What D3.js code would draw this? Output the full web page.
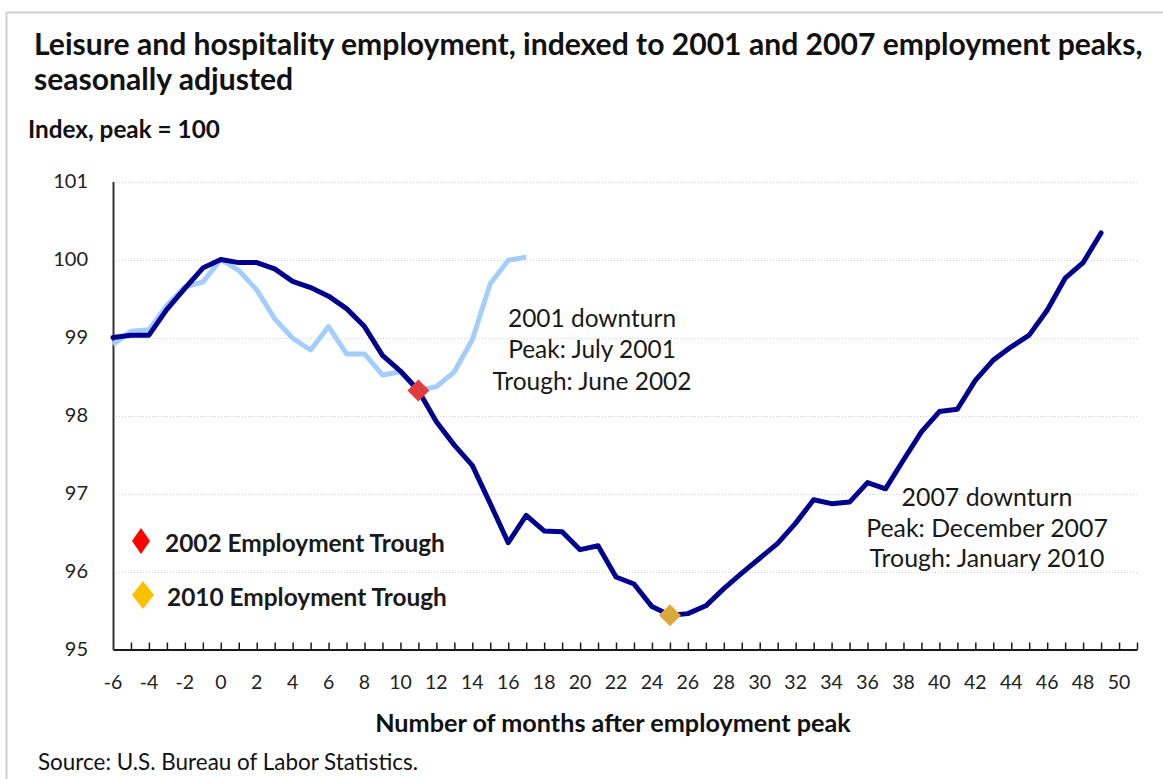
<!DOCTYPE html>
<html>
<head>
<meta charset="utf-8">
<script src="https://cdn.jsdelivr.net/npm/d3@7"></script>
<style>
  body { margin: 0; background: #fff; }
  svg { display: block; font-family: Lato, "DejaVu Sans", sans-serif; }
</style>
</head>
<body>
<script>
// months after employment peak
var months2007 = [-6, -5, -4, -3, -2, -1, 0, 1, 2, 3, 4, 5, 6, 7, 8, 9, 10, 11, 12, 13, 14, 15, 16, 17, 18, 19, 20, 21,
    22, 23, 24, 25, 26, 27, 28, 29, 30, 31, 32, 33, 34, 35, 36, 37, 38, 39, 40, 41, 42, 43, 44, 45, 46, 47, 48, 49];
var index2007 = [99.00, 99.03, 99.03, 99.36, 99.63, 99.89, 100.00, 99.96, 99.96, 99.88, 99.72, 99.64, 99.53, 99.37,
    99.14, 98.77, 98.57, 98.32, 97.92, 97.62, 97.36, 96.87, 96.37, 96.72, 96.52, 96.51, 96.28, 96.33, 95.93, 95.84,
    95.55, 95.44, 95.46, 95.56, 95.78, 95.98, 96.17, 96.36, 96.62, 96.92, 96.87, 96.89, 97.14, 97.06, 97.43, 97.79,
    98.05, 98.08, 98.45, 98.71, 98.88, 99.03, 99.35, 99.76, 99.96, 100.34];

var months2001 = [-6, -5, -4, -3, -2, -1, 0, 1, 2, 3, 4, 5, 6, 7, 8, 9, 10, 11, 12, 13, 14, 15, 16, 17];
var index2001 = [98.91, 99.08, 99.10, 99.41, 99.65, 99.71, 100.00, 99.86, 99.61, 99.24, 98.99, 98.84, 99.14, 98.79,
    98.79, 98.52, 98.56, 98.32, 98.37, 98.56, 98.97, 99.69, 99.99, 100.03];

// trough markers
var troughNames = ["2002 Employment Trough", "2010 Employment Trough"];
var troughMonths = [11, 25];
var troughValues = [98.32, 95.44];

var yTicks = [95, 96, 97, 98, 99, 100, 101];
var xTickLabels = [-6, -4, -2, 0, 2, 4, 6, 8, 10, 12, 14, 16, 18, 20, 22, 24, 26, 28, 30, 32, 34, 36, 38, 40, 42, 44, 46, 48, 50];

var width = 1163, height = 779;

var colors = {
    dark: "#00008f",
    light: "#a3cdfc",
    red: "#e03e3e",
    gold: "#d9aa3b",
    legendRed: "#ff0000",
    legendGold: "#ffc000"
};

var svg = d3.select("body").append("svg")
    .attr("width", width)
    .attr("height", height);

// outer frame
svg.append("rect")
    .attr("x", 6.5).attr("y", 12.5)
    .attr("width", 1170).attr("height", 790)
    .attr("fill", "none")
    .attr("stroke", "#d0d0d0")
    .attr("stroke-width", 2);

var xScale = d3.scaleLinear().domain([-6, 51]).range([113, 1137]);
var yScale = d3.scaleLinear().domain([95, 101]).range([649.5, 181.5]);

// scale text so it fills a measured width
function fitWidth(sel, target) {
    var size = parseFloat(sel.style("font-size"));
    var w = sel.node().getComputedTextLength();
    var s = size * target / w;
    sel.style("font-size", s + "px");
    return s;
}

// gridlines
svg.append("g")
    .selectAll("line")
    .data(yTicks.filter(function(d) { return d > 95; }))
    .enter().append("line")
    .attr("x1", xScale(-6)).attr("x2", xScale(51))
    .attr("y1", function(d) { return Math.round(yScale(d)) + 0.5; })
    .attr("y2", function(d) { return Math.round(yScale(d)) + 0.5; })
    .attr("stroke", "#cfcfcf")
    .attr("stroke-dasharray", "1,2");

// x axis
var monthTicks = [];
for (var m = -5; m <= 51; m++) monthTicks.push(m);

var xAxis = svg.append("g")
    .attr("transform", "translate(0," + yScale(95) + ")")
    .call(d3.axisBottom(xScale).tickValues(monthTicks).tickSize(-7).tickSizeOuter(0).tickFormat(""));
xAxis.select(".domain").attr("stroke", "#1a1a1a").attr("stroke-width", 2);
xAxis.selectAll(".tick line").attr("stroke", "#1a1a1a").attr("stroke-width", 1.5);

svg.append("g")
    .selectAll("text")
    .data(xTickLabels)
    .enter().append("text")
    .attr("x", function(d) { return xScale(d); })
    .attr("y", 689)
    .attr("text-anchor", "middle")
    .style("font-size", "19.5px")
    .attr("fill", "#222")
    .text(function(d) { return d; });

// y axis
var yAxis = svg.append("g")
    .attr("transform", "translate(" + xScale(-6) + ",0)")
    .call(d3.axisLeft(yScale).tickValues(yTicks).tickSize(0).tickPadding(25).tickFormat(d3.format("d")));
yAxis.select(".domain").attr("stroke", "#333").attr("stroke-width", 2);
yAxis.selectAll("text")
    .style("font-size", "20px")
    .style("font-family", "Lato, sans-serif")
    .attr("fill", "#222");

// lines
var line = d3.line()
    .x(function(d) { return xScale(d[0]); })
    .y(function(d) { return yScale(d[1]); });

svg.append("path")
    .datum(d3.zip(months2001, index2001))
    .attr("fill", "none")
    .attr("stroke", colors.light)
    .attr("stroke-width", 5)
    .attr("stroke-linejoin", "round")
    .attr("d", line);

svg.append("path")
    .datum(d3.zip(months2007, index2007))
    .attr("fill", "none")
    .attr("stroke", colors.dark)
    .attr("stroke-width", 5)
    .attr("stroke-linejoin", "round")
    .attr("stroke-linecap", "round")
    .attr("d", line);

// trough markers on the chart
var markerColors = [colors.red, colors.gold];
svg.append("g")
    .selectAll("path")
    .data(troughMonths)
    .enter().append("path")
    .attr("transform", function(d, i) {
        return "translate(" + xScale(d) + "," + yScale(troughValues[i]) + ")";
    })
    .attr("d", "M0,-11L11,0L0,11L-11,0Z")
    .attr("fill", function(d, i) { return markerColors[i]; });

// legend
var legendColors = [colors.legendRed, colors.legendGold];
var legendY = [541, 595];
var legendShapes = ["M0,-13L9,0L0,13L-9,0Z", "M0,-14L11,0L0,14L-11,0Z"];
var legendX = [141, 143];
var legend = svg.append("g");
legend.selectAll("path")
    .data(troughNames)
    .enter().append("path")
    .attr("transform", function(d, i) { return "translate(" + legendX[i] + "," + legendY[i] + ")"; })
    .attr("d", function(d, i) { return legendShapes[i]; })
    .attr("fill", function(d, i) { return legendColors[i]; });

var legendTexts = legend.selectAll("text")
    .data(troughNames)
    .enter().append("text")
    .attr("x", function(d, i) { return [165, 167][i]; })
    .attr("y", function(d, i) { return legendY[i] + 11; })
    .style("font-size", "20px")
    .style("font-weight", "bold")
    .attr("fill", "#1a1a1a")
    .text(function(d) { return d; });
var lsize = fitWidth(d3.select(legendTexts.nodes()[0]), 280);
legendTexts.style("font-size", lsize + "px");

// annotations
function annotate(lines, cx, baselines, target) {
    var g = svg.append("g");
    var t = g.selectAll("text")
        .data(lines)
        .enter().append("text")
        .attr("x", cx)
        .attr("y", function(d, i) { return baselines[i]; })
        .attr("text-anchor", "middle")
        .style("font-size", "19px")
        .attr("fill", "#1a1a1a")
        .text(function(d) { return d; });
    var s = fitWidth(d3.select(t.nodes()[lines.length - 1]), target);
    t.style("font-size", s + "px");
}
annotate(["2001 downturn", "Peak: July 2001", "Trough: June 2002"], 592, [327, 358, 390], 199);
annotate(["2007 downturn", "Peak: December 2007", "Trough: January 2010"], 987, [506, 537, 567], 235);

// titles
var t1 = svg.append("text")
    .attr("x", 34).attr("y", 55)
    .style("font-size", "22px")
    .style("font-weight", "bold")
    .attr("fill", "#111")
    .text("Leisure and hospitality employment, indexed to 2001 and 2007 employment peaks,");
var tsize = fitWidth(t1, 1109);

svg.append("text")
    .attr("x", 34).attr("y", 90)
    .style("font-size", tsize + "px")
    .style("font-weight", "bold")
    .attr("fill", "#111")
    .text("seasonally adjusted");

var sub = svg.append("text")
    .attr("x", 28).attr("y", 138)
    .style("font-size", "18px")
    .style("font-weight", "bold")
    .attr("fill", "#111")
    .text("Index, peak = 100");
fitWidth(sub, 192);

var xTitle = svg.append("text")
    .attr("x", 613).attr("y", 732)
    .attr("text-anchor", "middle")
    .style("font-size", "19px")
    .style("font-weight", "bold")
    .attr("fill", "#111")
    .text("Number of months after employment peak");
fitWidth(xTitle, 476);

var source = svg.append("text")
    .attr("x", 38).attr("y", 770)
    .style("font-size", "16px")
    .attr("fill", "#111")
    .text("Source: U.S. Bureau of Labor Statistics.");
fitWidth(source, 380);
</script>
</body>
</html>
